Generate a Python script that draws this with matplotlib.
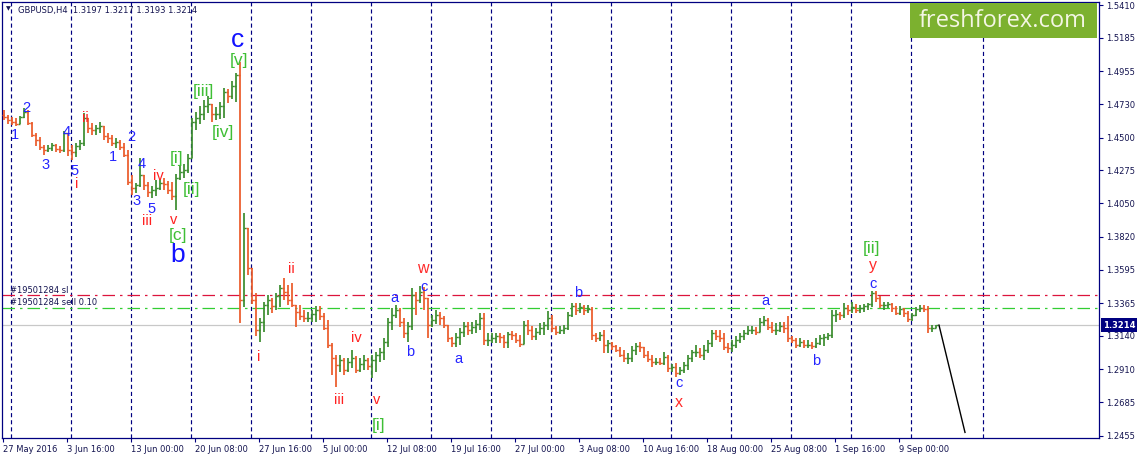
import matplotlib
matplotlib.use("Agg")
import matplotlib.pyplot as plt
import matplotlib.transforms as mtransforms
from matplotlib.patches import Rectangle
import numpy as np

# ---------------- data (GBPUSD H4, each entry = two H4 bars) ----------------
first_open = 1.4655
highs = [
 1.4690, 1.4655, 1.4642, 1.4635, 1.4649, 1.4703, 1.4690, 1.4607, 1.4532, 1.4505,
 1.4450, 1.4450, 1.4463, 1.4457, 1.4443, 1.4546, 1.4532, 1.4450, 1.4463, 1.4484,
 1.4669, 1.4635, 1.4601, 1.4587, 1.4607, 1.4573, 1.4532, 1.4518, 1.4498, 1.4484,
 1.4463, 1.4415, 1.4244, 1.4189, 1.4360, 1.4244, 1.4196, 1.4168, 1.4210, 1.4216,
 1.4223, 1.4203, 1.4196, 1.4251, 1.4306, 1.4319, 1.4388, 1.4635, 1.4676, 1.4717,
 1.4758, 1.4786, 1.4731, 1.4710, 1.4745, 1.4841, 1.4834, 1.4889, 1.4943, 1.5019,
 1.3983, 1.3846, 1.3482, 1.3434, 1.3263, 1.3372, 1.3420, 1.3400, 1.3434, 1.3489,
 1.3537, 1.3489, 1.3502, 1.3352, 1.3352, 1.3317, 1.3304, 1.3317, 1.3345, 1.3345,
 1.3297, 1.3249, 1.3091, 1.3009, 1.3009, 1.2988, 1.2988, 1.3043, 1.3002, 1.2988,
 1.3009, 1.2988, 1.3009, 1.3029, 1.3057, 1.3125, 1.3263, 1.3331, 1.3352, 1.3331,
 1.3263, 1.3235, 1.3468, 1.3441, 1.3482, 1.3475, 1.3386, 1.3283, 1.3317, 1.3304,
 1.3276, 1.3215, 1.3132, 1.3160, 1.3194, 1.3235, 1.3235, 1.3235, 1.3249, 1.3297,
 1.3297, 1.3160, 1.3160, 1.3160, 1.3160, 1.3146, 1.3167, 1.3173, 1.3160, 1.3146,
 1.3242, 1.3249, 1.3208, 1.3194, 1.3228, 1.3235, 1.3311, 1.3283, 1.3208, 1.3208,
 1.3215, 1.3304, 1.3365, 1.3365, 1.3365, 1.3352, 1.3352, 1.3338, 1.3160, 1.3167,
 1.3180, 1.3112, 1.3098, 1.3077, 1.3064, 1.3043, 1.3022, 1.3070, 1.3091, 1.3098,
 1.3064, 1.3036, 1.3009, 1.2988, 1.2988, 1.3029, 1.3009, 1.2947, 1.2954, 1.2926,
 1.2961, 1.3009, 1.3043, 1.3077, 1.3057, 1.3077, 1.3112, 1.3180, 1.3180, 1.3180,
 1.3160, 1.3091, 1.3112, 1.3139, 1.3160, 1.3180, 1.3208, 1.3208, 1.3201, 1.3263,
 1.3276, 1.3263, 1.3235, 1.3228, 1.3235, 1.3235, 1.3276, 1.3139, 1.3125, 1.3125,
 1.3112, 1.3112, 1.3098, 1.3125, 1.3146, 1.3153, 1.3160, 1.3317, 1.3317, 1.3304,
 1.3365, 1.3352, 1.3372, 1.3359, 1.3352, 1.3359, 1.3365, 1.3448, 1.3448, 1.3413,
 1.3372, 1.3372, 1.3365, 1.3345, 1.3345, 1.3331, 1.3311, 1.3297, 1.3338, 1.3352,
 1.3352, 1.3345, 1.3215, 1.3217]
lows = [
 1.4621, 1.4594, 1.4587, 1.4580, 1.4594, 1.4635, 1.4587, 1.4505, 1.4443, 1.4415,
 1.4381, 1.4402, 1.4408, 1.4402, 1.4395, 1.4402, 1.4374, 1.4347, 1.4367, 1.4415,
 1.4443, 1.4532, 1.4518, 1.4518, 1.4532, 1.4484, 1.4463, 1.4443, 1.4429, 1.4415,
 1.4367, 1.4175, 1.4107, 1.4120, 1.4162, 1.4141, 1.4093, 1.4086, 1.4100, 1.4141,
 1.4141, 1.4114, 1.4072, 1.4004, 1.4210, 1.4223, 1.4258, 1.4415, 1.4553, 1.4594,
 1.4621, 1.4669, 1.4607, 1.4621, 1.4628, 1.4635, 1.4738, 1.4765, 1.4745, 1.3228,
 1.3338, 1.3558, 1.3359, 1.3139, 1.3098, 1.3167, 1.3283, 1.3297, 1.3317, 1.3338,
 1.3386, 1.3352, 1.3338, 1.3201, 1.3249, 1.3235, 1.3235, 1.3235, 1.3235, 1.3249,
 1.3180, 1.3057, 1.2871, 1.2789, 1.2892, 1.2871, 1.2892, 1.2919, 1.2885, 1.2892,
 1.2906, 1.2906, 1.2851, 1.2892, 1.2961, 1.2974, 1.3064, 1.3180, 1.3263, 1.3201,
 1.3125, 1.3098, 1.3180, 1.3283, 1.3365, 1.3317, 1.3125, 1.3201, 1.3221, 1.3215,
 1.3194, 1.3098, 1.3064, 1.3064, 1.3077, 1.3132, 1.3146, 1.3153, 1.3160, 1.3180,
 1.3077, 1.3070, 1.3091, 1.3091, 1.3091, 1.3057, 1.3057, 1.3112, 1.3091, 1.3064,
 1.3098, 1.3146, 1.3112, 1.3112, 1.3146, 1.3146, 1.3180, 1.3167, 1.3146, 1.3153,
 1.3153, 1.3180, 1.3269, 1.3283, 1.3297, 1.3283, 1.3297, 1.3112, 1.3098, 1.3105,
 1.3022, 1.3022, 1.3043, 1.3029, 1.2995, 1.2961, 1.2947, 1.2961, 1.3009, 1.3029,
 1.2988, 1.2961, 1.2926, 1.2940, 1.2940, 1.2940, 1.2892, 1.2892, 1.2858, 1.2871,
 1.2885, 1.2906, 1.2961, 1.2995, 1.2988, 1.2974, 1.3022, 1.3064, 1.3112, 1.3098,
 1.3043, 1.3022, 1.3029, 1.3057, 1.3091, 1.3112, 1.3146, 1.3153, 1.3146, 1.3180,
 1.3208, 1.3180, 1.3160, 1.3146, 1.3167, 1.3160, 1.3098, 1.3091, 1.3057, 1.3064,
 1.3057, 1.3057, 1.3050, 1.3057, 1.3077, 1.3070, 1.3112, 1.3125, 1.3235, 1.3249,
 1.3263, 1.3283, 1.3297, 1.3297, 1.3297, 1.3304, 1.3317, 1.3338, 1.3372, 1.3331,
 1.3317, 1.3331, 1.3304, 1.3283, 1.3283, 1.3269, 1.3235, 1.3242, 1.3276, 1.3304,
 1.3304, 1.3160, 1.3167, 1.3193]
closes = [
 1.4642, 1.4621, 1.4607, 1.4594, 1.4642, 1.4676, 1.4601, 1.4518, 1.4484, 1.4436,
 1.4415, 1.4429, 1.4450, 1.4422, 1.4415, 1.4532, 1.4415, 1.4402, 1.4443, 1.4463,
 1.4635, 1.4566, 1.4553, 1.4566, 1.4580, 1.4511, 1.4498, 1.4463, 1.4470, 1.4436,
 1.4381, 1.4196, 1.4155, 1.4175, 1.4244, 1.4175, 1.4127, 1.4141, 1.4155, 1.4189,
 1.4182, 1.4141, 1.4100, 1.4223, 1.4264, 1.4278, 1.4360, 1.4607, 1.4635, 1.4662,
 1.4717, 1.4731, 1.4662, 1.4662, 1.4717, 1.4813, 1.4786, 1.4854, 1.4930, 1.3386,
 1.3880, 1.3606, 1.3386, 1.3180, 1.3235, 1.3352, 1.3386, 1.3345, 1.3413, 1.3468,
 1.3441, 1.3386, 1.3352, 1.3304, 1.3276, 1.3263, 1.3263, 1.3290, 1.3317, 1.3276,
 1.3194, 1.3077, 1.2988, 1.2940, 1.2974, 1.2906, 1.2961, 1.2988, 1.2906, 1.2947,
 1.2974, 1.2933, 1.2974, 1.3009, 1.3029, 1.3098, 1.3235, 1.3283, 1.3317, 1.3235,
 1.3160, 1.3208, 1.3420, 1.3386, 1.3441, 1.3400, 1.3215, 1.3249, 1.3283, 1.3263,
 1.3215, 1.3125, 1.3091, 1.3132, 1.3167, 1.3208, 1.3180, 1.3201, 1.3221, 1.3263,
 1.3112, 1.3112, 1.3125, 1.3139, 1.3132, 1.3098, 1.3153, 1.3146, 1.3112, 1.3084,
 1.3215, 1.3180, 1.3139, 1.3167, 1.3194, 1.3215, 1.3263, 1.3194, 1.3167, 1.3180,
 1.3194, 1.3283, 1.3345, 1.3317, 1.3338, 1.3317, 1.3324, 1.3146, 1.3125, 1.3146,
 1.3077, 1.3091, 1.3070, 1.3043, 1.3009, 1.2988, 1.2988, 1.3043, 1.3070, 1.3064,
 1.3009, 1.2981, 1.2961, 1.2961, 1.2954, 1.2995, 1.2919, 1.2926, 1.2885, 1.2906,
 1.2940, 1.2988, 1.3029, 1.3029, 1.3009, 1.3043, 1.3091, 1.3160, 1.3139, 1.3125,
 1.3064, 1.3057, 1.3077, 1.3112, 1.3139, 1.3160, 1.3180, 1.3180, 1.3167, 1.3235,
 1.3249, 1.3201, 1.3180, 1.3180, 1.3208, 1.3194, 1.3125, 1.3112, 1.3077, 1.3098,
 1.3077, 1.3077, 1.3070, 1.3091, 1.3125, 1.3132, 1.3146, 1.3283, 1.3290, 1.3283,
 1.3331, 1.3317, 1.3338, 1.3317, 1.3331, 1.3345, 1.3359, 1.3434, 1.3400, 1.3352,
 1.3352, 1.3359, 1.3331, 1.3297, 1.3324, 1.3297, 1.3256, 1.3283, 1.3324, 1.3331,
 1.3324, 1.3194, 1.3197, 1.3214]
assert len(highs) == len(lows) == len(closes)

date_ticks = [0, 32, 64, 96, 128, 160, 192, 224, 256, 288, 320, 352, 384, 416, 448]
date_labels = ["27 May 2016", "3 Jun 16:00", "13 Jun 00:00", "20 Jun 08:00", "27 Jun 16:00",
               "5 Jul 00:00", "12 Jul 08:00", "19 Jul 16:00", "27 Jul 00:00", "3 Aug 08:00",
               "10 Aug 16:00", "18 Aug 00:00", "25 Aug 08:00", "1 Sep 16:00", "9 Sep 00:00"]
price_ticks = [1.5410, 1.5185, 1.4955, 1.4730, 1.4500, 1.4275, 1.4050, 1.3820,
               1.3595, 1.3365, 1.3140, 1.2910, 1.2685, 1.2455]
week_separators = [4, 34, 64, 94, 124, 154, 184, 214, 244, 274, 304, 334, 364, 394, 424, 454, 490]
sl_price = 1.3420
sell_price = 1.3328
last_price = 1.3214
trend_x = [468, 481]
trend_y = [1.3214, 1.2478]
title_text = "GBPUSD,H4  1.3197 1.3217 1.3193 1.3214"
order_sl_text = "#19501284 sl"
order_sell_text = "#19501284 sell 0.10"

label_text = ["1", "2", "3", "4", "5", "i", "ii", "1", "2", "3", "4", "5", "iii", "iv", "v",
              "[i]", "[ii]", "[iii]", "[iv]", "[v]", "[c]", "c", "b",
              "i", "ii", "iii", "iv", "v", "[i]", "a", "b", "c", "w", "a", "b", "c", "x",
              "a", "b", "[ii]", "y", "c"]
label_x = [6, 11.5, 21.5, 32, 36, 37, 41, 55, 64, 67, 69.5, 74.5, 72, 77.5, 85.5,
           87, 94, 100, 110, 118, 87.5, 117.5, 87.5,
           128, 144, 168, 176.5, 187, 188, 195.5, 203.5, 210.5, 210, 227.5, 287.5, 338, 338,
           381, 406.5, 434.5, 435, 435]
label_y = [1.4518, 1.4703, 1.4312, 1.4539, 1.4271, 1.4182, 1.4635, 1.4367, 1.4505, 1.4065,
           1.4319, 1.4011, 1.3928, 1.4237, 1.3935,
           1.4354, 1.4141, 1.4820, 1.4532, 1.5032, 1.3832, 1.5170, 1.3695,
           1.2995, 1.3599, 1.2700, 1.3126, 1.2700, 1.2522, 1.3400, 1.3029, 1.3475, 1.3599,
           1.2981, 1.3434, 1.2817, 1.2680, 1.3379, 1.2968, 1.3743, 1.3620, 1.3496]
label_style = ["blue", "blue", "blue", "blue", "blue", "red", "red", "blue", "blue", "blue",
               "blue", "blue", "red", "red", "red",
               "green", "green", "green", "green", "green", "green", "big", "big",
               "red", "red", "red", "red", "red", "green", "blue", "blue", "blue", "red2",
               "blue", "blue", "blue", "red2", "blue", "blue", "green", "red2", "blue"]

# ---------------- styling ----------------
W, H = 1137, 459
NAVY = "#000080"
TXT = "#141450"
UP = "#3a8c2e"
DOWN = "#eb5a28"
styles = {
    "blue": dict(color="#2525ff", fontsize=10.5),
    "red": dict(color="#ff2020", fontsize=10.5),
    "red2": dict(color="#ff2a2a", fontsize=11.5),
    "green": dict(color="#3fbf35", fontsize=12.5),
    "big": dict(color="#1212ff", fontsize=19),
}

plt.rcParams["font.family"] = ["DejaVu Sans"]
fig = plt.figure(figsize=(W / 100, H / 100), dpi=100)
fig.patch.set_facecolor("white")
ax = fig.add_axes([2 / W, (H - 438) / H, (1099 - 2) / W, (438 - 2) / H])
ax.set_facecolor("white")
ax.set_xlim(-0.5, 548)
ax.set_ylim(1.24396, 1.54306)

# week separators
for s in week_separators:
    ax.axvline(s, color=NAVY, lw=0.85, linestyle=(0, (3.5, 2.5)), zorder=1)

# horizontal lines
ax.axhline(last_price, color="#c8c8c8", lw=0.9, zorder=1)
ax.axhline(sl_price, color="#dc143c", lw=0.9, linestyle=(0, (10, 4, 2, 4)), zorder=2)
ax.axhline(sell_price, color="#32cd32", lw=0.9, linestyle=(0, (10, 4, 2, 4)), zorder=2)

# OHLC bars
h = np.array(highs)
l = np.array(lows)
c = np.array(closes)
o = np.concatenate([[first_open], c[:-1]])
xs = 2 * np.arange(len(c)) + 0.5
cols = [UP if cc >= oo else DOWN for oo, cc in zip(o, c)]
top = np.maximum(h, o)
bot = np.minimum(l, o)
ax.vlines(xs, bot, top, colors=cols, lw=1.25, zorder=3)
ax.hlines(o, xs - 0.9, xs, colors=cols, lw=1.0, zorder=3)
ax.hlines(c, xs, xs + 0.9, colors=cols, lw=1.0, zorder=3)

# projection line
ax.plot(trend_x, trend_y, color="black", lw=1.0, zorder=4)

# wave labels
for t, x, y, st in zip(label_text, label_x, label_y, label_style):
    ax.text(x, y, t, ha="center", va="center", family=["Liberation Sans", "DejaVu Sans"],
            zorder=5, **styles[st])

# order texts
ax.text(3.5, 1.3454, order_sl_text, fontsize=6, color=TXT, ha="left", va="center", zorder=5)
ax.text(3.5, 1.3372, order_sell_text, fontsize=6, color=TXT, ha="left", va="center", zorder=5)

# axes styling
for sp in ax.spines.values():
    sp.set_color(NAVY)
    sp.set_linewidth(0.9)
ax.yaxis.tick_right()
ax.set_yticks(price_ticks)
ax.set_yticklabels(["%.4f" % p for p in price_ticks], fontsize=6, color=TXT)
ax.set_xticks(date_ticks)
ax.set_xticklabels(date_labels, fontsize=6, color=TXT, ha="left")
ax.tick_params(axis="x", direction="out", length=3, width=0.8, color=NAVY, pad=2)
ax.tick_params(axis="y", direction="out", length=3, width=0.8, color=NAVY, pad=2)

# current price box
trans = mtransforms.blended_transform_factory(ax.transAxes, ax.transData)
ax.text(1.004, last_price, "%.4f" % last_price, transform=trans, ha="left", va="center",
        fontsize=6, fontweight="bold", color="white", clip_on=False, zorder=10,
        bbox=dict(boxstyle="square,pad=0.3", fc=NAVY, ec="none"))

# title
fig.text(8 / W, 1 - 9 / H, "\u25bc", fontsize=4.5, color=TXT, ha="center", va="center")
fig.text(18 / W, 1 - 10 / H, title_text, fontsize=6, color=TXT, ha="left", va="center")

# logo
fig.patches.append(Rectangle((910 / W, 1 - 38 / H), 187 / W, 35 / H, transform=fig.transFigure,
                             facecolor="#7cb12f", edgecolor="none", zorder=20))
fig.text(1003 / W, 1 - 21 / H, "freshforex.com", family=["Open Sans", "DejaVu Sans"],
         fontsize=17, color="#f4f6e4", ha="center", va="center", zorder=21)

fig.savefig("out.png", dpi=100)
